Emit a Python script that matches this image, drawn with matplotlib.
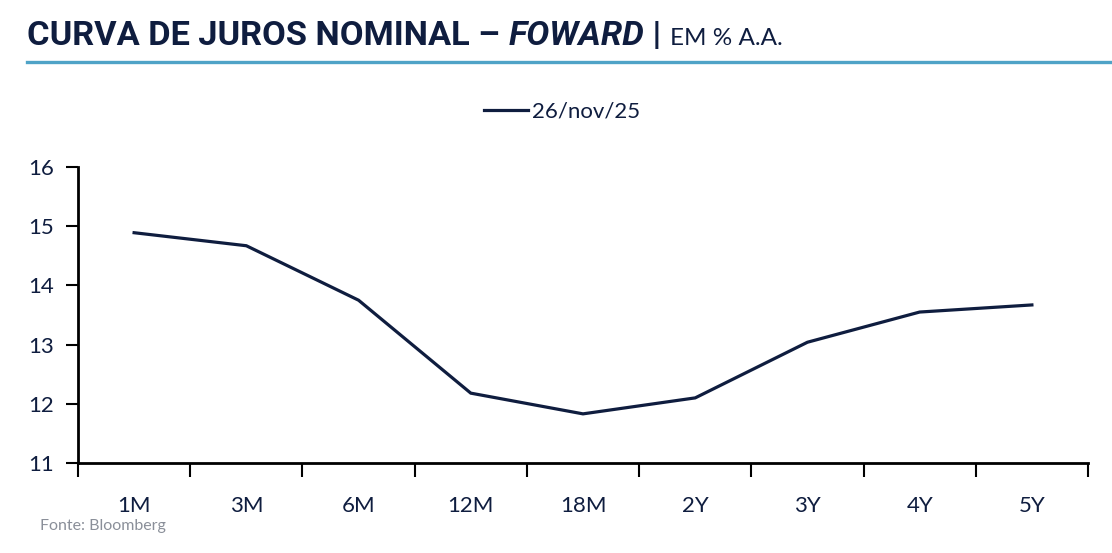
import matplotlib
matplotlib.use("Agg")
import matplotlib.pyplot as plt
from matplotlib.lines import Line2D

categories = ["1M", "3M", "6M", "12M", "18M", "2Y", "3Y", "4Y", "5Y"]
values = [14.89, 14.67, 13.75, 12.18, 11.83, 12.10, 13.04, 13.55, 13.67]
series_label = "26/nov/25"
yticks = [11, 12, 13, 14, 15, 16]

NAVY = "#0f1d3f"
BLUE = "#4fa3c7"
W, H = 1112, 553

plt.rcParams['font.family'] = ['Lato', 'DejaVu Sans']
title_kw = dict(family=['Roboto', 'DejaVu Sans'])

fig = plt.figure(figsize=(W / 100, H / 100), dpi=100)
ax = fig.add_axes([78 / W, 1 - 463 / H, (1088 - 78) / W, (463 - 167) / H])

x = list(range(len(categories)))
ax.plot(x, values, color=NAVY, lw=2.3, solid_joinstyle='miter', label=series_label)
ax.set_xlim(-0.5, len(categories) - 0.5)
ax.set_ylim(11, 16)
ax.set_yticks(yticks)
ax.set_yticklabels([str(v) for v in yticks])
ax.set_xticks(x)
ax.set_xticklabels(categories)
ax.set_xticks([i - 0.5 for i in range(len(categories) + 1)], minor=True)
ax.tick_params(axis='x', which='major', length=0, pad=24, labelsize=16, labelcolor=NAVY)
ax.tick_params(axis='x', which='minor', length=10, width=1.5, direction='out', color='black')
ax.tick_params(axis='y', length=9, width=1.5, direction='out', color='black', labelsize=16,
               labelcolor=NAVY, pad=8)
for s in ['top', 'right']:
    ax.spines[s].set_visible(False)
for s in ['left', 'bottom']:
    ax.spines[s].set_linewidth(2)
    ax.spines[s].set_color('black')

# legend
fig.legend(handles=[Line2D([0], [0], color=NAVY, lw=2.3)], labels=[series_label],
           loc='center', bbox_to_anchor=(562 / W, 1 - 112 / H), frameon=False,
           fontsize=16, handlelength=2.0, handletextpad=0.15, labelcolor=NAVY)

# title pieces, scaled so the bold part spans the reference width
fig.canvas.draw()
renderer = fig.canvas.get_renderer()
ty = 1 - 45 / H
target = 650 - 27
probe = fig.text(0, 0, "CURVA DE JUROS NOMINAL – FOWARD", fontsize=25, fontweight='bold', **title_kw)
w = probe.get_window_extent(renderer=renderer).width
probe.remove()
tsize = max(23, min(27, 25 * target / w))

xpos = 27
pieces = [
    ("CURVA DE JUROS NOMINAL – ", dict(fontsize=tsize, fontweight='bold', **title_kw)),
    ("FOWARD", dict(fontsize=tsize, fontweight='bold', fontstyle='italic', **title_kw)),
    (" | ", dict(fontsize=tsize, fontweight='bold', **title_kw)),
    ("EM % A.A.", dict(fontsize=17.5, fontweight='normal')),
]
for txt, kw in pieces:
    t = fig.text(xpos / W, ty, txt, color=NAVY, ha='left', va='baseline', **kw)
    bb = t.get_window_extent(renderer=renderer)
    xpos += bb.width

fig.add_artist(Line2D([27 / W, 1.0], [1 - 61.5 / H, 1 - 61.5 / H], color=BLUE, lw=2.4,
                      transform=fig.transFigure))

fig.text(40 / W, 1 - 526 / H, "Fonte: Bloomberg", color="#8a8f99", fontsize=11.5,
         ha='left', va='center')

fig.savefig("out.png", dpi=100)
